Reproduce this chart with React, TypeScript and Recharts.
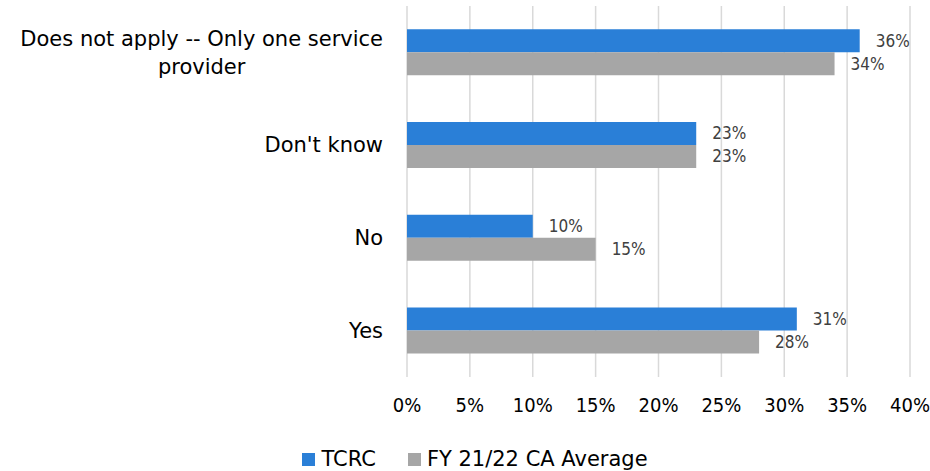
import React from 'react';
import {
  BarChart,
  Bar,
  XAxis,
  YAxis,
  CartesianGrid,
  Legend,
  LabelList,
} from 'recharts';

const categories = ['Does not apply -- Only one service\nprovider', "Don't know", 'No', 'Yes'];
const tcrcValues = [36, 23, 10, 31];
const caAverageValues = [34, 23, 15, 28];
const xTicks = [0, 5, 10, 15, 20, 25, 30, 35, 40];

const data = categories.map((name, i) => ({
  name,
  tcrc: tcrcValues[i],
  ca: caAverageValues[i],
}));

const BLUE = '#2a7fd7';
const GRAY = '#a6a6a6';
const TEXT_FONT = "'DejaVu Sans', sans-serif";
const TICK_FONT = "'DejaVu Sans Condensed', 'DejaVu Sans', sans-serif";
const LABEL_FONT = "'Liberation Sans Narrow', 'DejaVu Sans Condensed', sans-serif";

let ctx: CanvasRenderingContext2D | null = null;
function measure(text: string, font: string) {
  if (!ctx) ctx = document.createElement('canvas').getContext('2d');
  if (!ctx) return text.length * 11;
  ctx.font = font;
  return ctx.measureText(text).width;
}

function CategoryTick(props: any) {
  const { x, y, payload } = props;
  const lines: string[] = String(payload.value).split('\n');
  const lineHeight = 28;
  const font = `21px ${TEXT_FONT}`;
  if (lines.length === 1) {
    return (
      <text x={x} y={y} dy="0.35em" textAnchor="end" fill="#000" fontSize={21} fontFamily={TEXT_FONT}>
        {lines[0]}
      </text>
    );
  }
  // multi-line labels: block right-aligned, lines centred within it
  const maxW = Math.max(...lines.map((l) => measure(l, font)));
  const cx = x - maxW / 2;
  const startY = y - ((lines.length - 1) * lineHeight) / 2;
  return (
    <text textAnchor="middle" fill="#000" fontSize={21} fontFamily={TEXT_FONT}>
      {lines.map((l, i) => (
        <tspan key={i} x={cx} y={startY + i * lineHeight} dy="0.35em">
          {l}
        </tspan>
      ))}
    </text>
  );
}

function LegendContent() {
  const item = (color: string, label: string, mr: number) => (
    <div style={{ display: 'flex', alignItems: 'center', marginRight: mr }}>
      <div style={{ width: 13, height: 13, background: color, marginRight: 6 }} />
      <span style={{ fontSize: 21, fontFamily: TEXT_FONT, color: '#000', lineHeight: '24px' }}>
        {label}
      </span>
    </div>
  );
  return (
    <div
      style={{
        height: 24,
        display: 'flex',
        justifyContent: 'center',
        alignItems: 'center',
        paddingLeft: 40,
      }}
    >
      {item(BLUE, 'TCRC', 32)}
      {item(GRAY, 'FY 21/22 CA Average', 0)}
    </div>
  );
}

export default function App() {
  return (
    <div style={{ position: 'absolute', left: 0, top: 0, background: '#fff' }}>
      <BarChart
        width={930}
        height={471}
        data={data}
        layout="vertical"
        margin={{ top: 6, right: 20, left: 0, bottom: 0 }}
        barCategoryGap="25%"
        barGap={0}
      >
        <CartesianGrid horizontal={false} vertical stroke="#d9d9d9" strokeWidth={1.5} />
        <XAxis
          type="number"
          domain={[0, 40]}
          ticks={xTicks}
          tickFormatter={(v) => `${v}%`}
          axisLine={false}
          tickLine={false}
          tickSize={0}
          tickMargin={21}
          height={70}
          interval={0}
          tick={{ fontSize: 20, fill: '#000', fontFamily: TICK_FONT }}
        />
        <YAxis
          type="category"
          dataKey="name"
          width={407}
          axisLine={false}
          tickLine={false}
          tickSize={0}
          tickMargin={24}
          interval={0}
          tick={<CategoryTick />}
        />
        <Legend verticalAlign="bottom" content={<LegendContent />} />
        <Bar dataKey="tcrc" name="TCRC" fill={BLUE} isAnimationActive={false}>
          <LabelList
            dataKey="tcrc"
            position="right"
            offset={16}
            fill="#404040"
            fontSize={17}
            fontFamily={LABEL_FONT}
            formatter={(v: any) => `${v}%`}
          />
        </Bar>
        <Bar dataKey="ca" name="FY 21/22 CA Average" fill={GRAY} isAnimationActive={false}>
          <LabelList
            dataKey="ca"
            position="right"
            offset={16}
            fill="#404040"
            fontSize={17}
            fontFamily={LABEL_FONT}
            formatter={(v: any) => `${v}%`}
          />
        </Bar>
      </BarChart>
    </div>
  );
}
